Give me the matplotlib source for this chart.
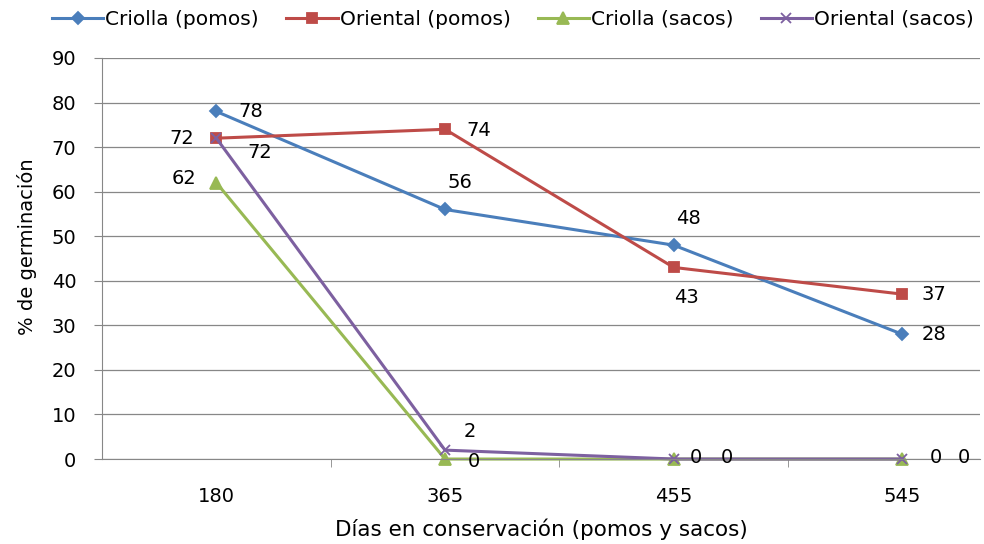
import matplotlib.pyplot as plt

plt.rcParams['font.family'] = ['DejaVu Sans']

dias = ['180', '365', '455', '545']
criolla_pomos = [78, 56, 48, 28]
oriental_pomos = [72, 74, 43, 37]
criolla_sacos = [62, 0, 0, 0]
oriental_sacos = [72, 2, 0, 0]

x = range(len(dias))

fig = plt.figure(figsize=(9.84, 5.44), dpi=100)
ax = fig.add_axes([0.1037, 0.1562, 0.8923, 0.7372])

series = [
    ('Criolla (pomos)', criolla_pomos, '#4A7EBB', 'D', 6),
    ('Oriental (pomos)', oriental_pomos, '#BE4B48', 's', 7.5),
    ('Criolla (sacos)', criolla_sacos, '#98B954', '^', 8),
    ('Oriental (sacos)', oriental_sacos, '#7D60A0', 'x', 7),
]
for name, vals, col, mk, ms in series:
    ax.plot(x, vals, color=col, lw=2.2, marker=mk, ms=ms, mew=1.3,
            label=name, clip_on=False)

# desplazamiento de cada etiqueta en puntos (dx, dy)
offsets = {
    'Criolla (pomos)': [(25, 0), (11, 19.5), (10.5, 19), (23, 0)],
    'Oriental (pomos)': [(-25, 0), (24, -1), (9, -22), (23, 0)],
    'Criolla (sacos)': [(-23, 3), (21, -1.5), (16, 1), (24, 1)],
    'Oriental (sacos)': [(31, -10), (18, 13.5), (38, 1), (44, 1)],
}
for name, vals, col, mk, ms in series:
    for i, v in enumerate(vals):
        ax.annotate(str(v), (i, v), xytext=offsets[name][i],
                    textcoords='offset points', ha='center', va='center',
                    fontsize=14)

ax.set_xlim(-0.5, 3.34)
ax.set_ylim(0, 90)
ax.set_yticks(range(0, 91, 10))
ax.set_xticks(list(x))
ax.set_xticklabels(dias)
ax.set_xticks([0.5, 1.5, 2.5], minor=True)
ax.tick_params(axis='x', which='major', length=0, pad=20, labelsize=14)
ax.tick_params(axis='x', which='minor', length=6, color='#878787')
ax.tick_params(axis='y', length=6, color='#878787', labelsize=14, pad=12.5)

ax.grid(axis='y', color='#878787', lw=0.9)
ax.set_axisbelow(True)
for s in ['top', 'right']:
    ax.spines[s].set_visible(False)
for s in ['left', 'bottom']:
    ax.spines[s].set_color('#878787')

ax.set_xlabel('Días en conservación (pomos y sacos)', fontsize=15.5, labelpad=9)
ax.set_ylabel('% de germinación', fontsize=14)
ax.yaxis.set_label_coords(-0.074, 0.529)

ax.legend(loc='center', bbox_to_anchor=(0.468, 1.097), ncol=4, frameon=False,
          fontsize=14.5, handlelength=2.55, columnspacing=1.35,
          handletextpad=0.1, borderaxespad=0, borderpad=0)

plt.savefig('out.png', dpi=100)
